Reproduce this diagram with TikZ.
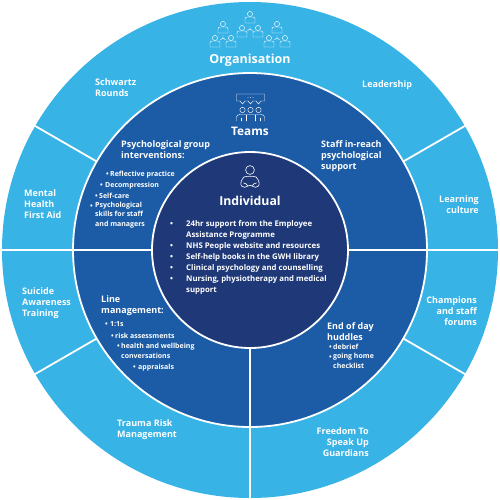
\documentclass[tikz,border=0pt]{standalone}
\usepackage{fontspec}
\usetikzlibrary{calc}
\setmainfont{Open Sans}
\definecolor{orgblue}{HTML}{38B3E6}
\definecolor{teamblue}{HTML}{1C5CA6}
\definecolor{indblue}{HTML}{1F3978}
\tikzset{
  ring/.style={draw=white,line width=1.8pt},
  divider/.style={draw=white,line width=1.8pt},
  lab/.style={text=white,font=\fontsize{9}{11}\selectfont\bfseries,inner sep=0pt,anchor=base west,align=left},
  labr/.style={lab,anchor=base east,align=right},
  small/.style={text=white,font=\fontsize{7}{10}\selectfont\bfseries,inner sep=0pt,anchor=base west,align=left},
  list/.style={text=white,font=\fontsize{7.8}{11}\selectfont\bfseries,inner sep=0pt,anchor=base west,align=left},
  head/.style={text=white,inner sep=0pt,anchor=base},
  icon/.style={draw=white,line width=0.45pt,line join=round,line cap=round},
  person/.pic={
    \draw[icon] (0,0) circle (2.6);
    \draw[icon] (-5,9) -- (-5,5) .. controls (-5,3.4) and (-4,3) .. (-2.8,3) -- (2.8,3) .. controls (4,3) and (5,3.4) .. (5,5) -- (5,9) -- cycle;
  },
  tri/.pic={
    \draw[icon] (0,0) -- (0,-2.5) (0,0) -- (-2.4,1.6) (0,0) -- (2.4,1.6);
  },
  member/.pic={
    \draw[icon] (0,0) circle (2.7);
  }
}
\begin{document}
\begin{tikzpicture}[x=1pt,y=-1pt]
\useasboundingbox (0,0) rectangle (500,499);
\coordinate (c) at (250,250);
\fill[orgblue] (c) circle (248);
\fill[teamblue] (c) circle (177);
\draw[ring] (c) circle (177);
% outer dividers
\foreach \a in {0,150,180,210,270,330,30}
  \draw[divider] ($(c)+(-\a:177)$) -- ($(c)+(-\a:249)$);
% team dividers
\foreach \a in {0,180,270}
  \draw[divider] ($(c)+(-\a:98)$) -- ($(c)+(-\a:177)$);
\fill[indblue] (c) circle (98);
\draw[ring] (c) circle (98);

% organisation icon
\foreach \x/\y in {250/14,223/24,242/28,258/28,277/24,215/38,231/38,269/38,285/38}
  \pic at (\x,\y) {person};
\foreach \x/\y in {250/29,223/38,277/38}
  \pic at (\x,\y) {tri};

% teams icon
\draw[icon] (236.5,94) -- (264.5,94) -- (264.5,101) -- (261,101) -- (258.5,104) -- (256,101) -- (253,101) -- (250.5,104) -- (248,101) -- (245,101) -- (242.5,104) -- (240,101) -- (236.5,101) -- cycle;
\fill[white] (248,97.5) circle (0.3) (250.5,97.5) circle (0.3) (253,97.5) circle (0.3);
\foreach \x in {242.5,250.5,258.5}
  \pic at (\x,110) {member};
\draw[icon] (236.5,121) -- (236.5,117) .. controls (236.5,115.5) and (238,114.5) .. (240,114.5) -- (261,114.5) .. controls (263,114.5) and (264.5,115.5) .. (264.5,117) -- (264.5,121);
\draw[icon] (246,121) -- (246,115) (255,121) -- (255,115) (241,121) -- (241,118) (260,121) -- (260,118);

% individual icon
\draw[icon,line width=0.6pt] (250,170) circle (4.4);
\draw[icon,line width=0.6pt] (244,177) .. controls (241,180) and (240,184) .. (241.5,186) .. controls (243,188) and (246,187.5) .. (248,186) .. controls (248.5,185) and (251.5,185) .. (252,186) .. controls (254,187.5) and (257,188) .. (258.5,186) .. controls (260,184) and (259,180) .. (256,177);
\draw[icon,line width=0.6pt] (244,177) .. controls (246,176) and (254,176) .. (256,177);
\draw[icon,line width=0.6pt] (243.5,183) .. controls (245,183) and (247,184) .. (248,186) (256.5,183) .. controls (255,183) and (253,184) .. (252,186);

% headings
\node[head,font=\fontsize{12.5}{16}\selectfont\bfseries] (org) at (250,63) {Organisation};
\node[head,font=\fontsize{11.8}{15}\selectfont\bfseries] (teams) at (250,135) {Teams};
\node[head,font=\fontsize{12.3}{16}\selectfont\bfseries] (indiv) at (250,205) {Individual};

% outer ring labels (coordinate = baseline of last line)
\node[lab] (schwartz) at (95,96) {Schwartz\\Rounds};
\node[lab] (leader) at (362,87) {Leadership};
\node[labr] (learning) at (479,213) {Learning\\culture};
\node[labr] (champs) at (477,325) {Champions\\and staff\\forums};
\node[lab] (mental) at (24,218) {Mental\\Health\\First Aid};
\node[lab] (suicide) at (22,316) {Suicide\\Awareness\\Training};
\node[lab] (trauma) at (117,437) {Trauma Risk\\Management};
\node[labr] (freedom) at (369,456) {Freedom To\\Speak Up\\Guardians};

% team labels
\node[lab] (psych) at (121,158) {Psychological group\\interventions:};
\node[small] (b1) at (106,176) {•}; \node[small] (t1) at (110,176) {Reflective practice};
\node[small] (b2) at (100,187) {•}; \node[small] (t2) at (105,187) {Decompression};
\node[small] (b3) at (95,198) {•};  \node[small] (t3) at (99,198) {Self-care};
\node[small] (b4) at (90,208) {•};  \node[small,font=\fontsize{7}{9.2}\selectfont\bfseries] (t4) at (95,226) {Psychological\\skills for staff\\and managers};
\node[lab] (staff) at (321,169) {Staff in-reach\\psychological\\support};
\node[lab] (line) at (101,313) {Line\\management:};
\node[small] (b5) at (105,326) {•}; \node[small] (t5) at (110,326) {1:1s};
\node[small] (b6) at (111,338) {•}; \node[small] (t6) at (115,338) {risk assessments};
\node[small] (b7) at (117,348) {•}; \node[small] (t7) at (121,358) {health and wellbeing\\conversations};
\node[small] (b8) at (133,369) {•}; \node[small] (t8) at (138,369) {appraisals};
\node[lab] (end) at (327,340) {End of day\\huddles};
\node[small] (b9) at (329,349) {•}; \node[small] (t9) at (333,349) {debrief};
\node[small] (b10) at (329,359) {•}; \node[small,font=\fontsize{7}{9.2}\selectfont\bfseries] (t10) at (333,368) {going home\\checklist};

% individual list
\foreach \n/\y in {1/226,2/248,3/259,4/270,5/281}
  \node[list] (ib\n) at (170,\y) {•};
\node[list] (i1) at (186,237) {24hr support from the Employee\\Assistance Programme};
\node[list] (i2) at (186,248) {NHS People website and resources};
\node[list] (i3) at (186,259) {Self-help books in the GWH library};
\node[list] (i4) at (186,270) {Clinical psychology and counselling};
\node[list] (i5) at (186,292) {Nursing, physiotherapy and medical\\support};
\end{tikzpicture}
\end{document}
